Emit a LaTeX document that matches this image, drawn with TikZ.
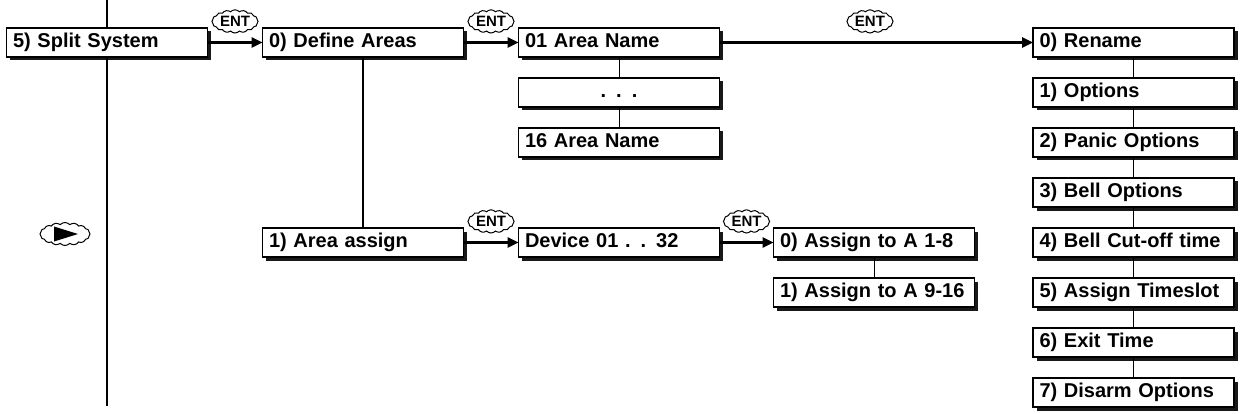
\documentclass[tikz,border=0pt]{standalone}
\usepackage{fontspec}
\setmainfont{Liberation Sans}
\usetikzlibrary{positioning,shapes.symbols,shadows,arrows.meta}

\begin{document}
\begin{tikzpicture}[x=1pt, y=1pt,
  menu/.style={draw, rectangle, fill=white, line width=1.2pt, minimum height=29pt,
    text width=188pt, inner xsep=6.5pt, inner ysep=0pt, outer sep=0pt, align=left,
    text height=14pt, text depth=4pt, font=\bfseries\fontsize{20}{20}\selectfont,
    drop shadow={fill=black!90, opacity=1, shadow xshift=3.5pt, shadow yshift=-3.5pt}},
  ent/.style={draw, cloud, cloud puffs=16, cloud puff arc=95, aspect=2.3, inner sep=1pt,
    minimum width=44pt, minimum height=21pt, line width=1pt, fill=white,
    font=\bfseries\fontsize{15}{15}\selectfont},
  link/.style={line width=2.5pt, -{Triangle[length=11pt,width=10pt]}},
  tie/.style={line width=1pt},
  trunk/.style={line width=1.5pt}]
  \useasboundingbox (0,0) rectangle (1241,-414);
  \coordinate (vtop) at (107,0);
  \coordinate (vbot) at (107,-406);
  \node[menu] (s5) at (107,-42.5) {5) Split System};
  \node[menu, right=55pt of s5] (d0) {0) Define Areas};
  \node[menu, right=55pt of d0] (a01) {01 Area Name};
  \node[menu, below=21pt of a01, align=center] (dots) {. . .};
  \node[menu, below=21pt of dots] (a16) {16 Area Name};
  \node[menu, right=313.5pt of a01] (r0) {0) Rename};
  \node[menu, below=21pt of r0] (r1) {1) Options};
  \node[menu, below=21pt of r1] (r2) {2) Panic Options};
  \node[menu, below=21pt of r2] (r3) {3) Bell Options};
  \node[menu, below=21pt of r3] (r4) {4) Bell Cut-off time};
  \node[menu, below=21pt of r4] (r5) {5) Assign Timeslot};
  \node[menu, below=21pt of r5] (r6) {6) Exit Time};
  \node[menu, below=21pt of r6] (r7) {7) Disarm Options};
  \node[menu, below=171pt of d0] (aa1) {1) Area assign};
  \node[menu, right=55pt of aa1] (dev) {Device 01 . . 32};
  \node[menu, right=54pt of dev] (as0) {0) Assign to A 1-8};
  \node[menu, below=21pt of as0] (as1) {1) Assign to A 9-16};
  \node[ent, minimum width=50pt, minimum height=23pt] (play) at (65,-234) {};
  \fill ([xshift=-11pt,yshift=7.5pt]play.center) -- ([xshift=13pt]play.center)
    -- ([xshift=-11pt,yshift=-7.5pt]play.center) -- cycle;
  \draw[trunk] (vtop) -- (s5.north);
  \draw[trunk] (s5.south) -- (vbot);
  \draw[trunk] (d0) -- (aa1);
  \draw[link] (s5) -- node[ent, above=9pt] (e1) {ENT} (d0);
  \draw[link] (d0) -- node[ent, above=9pt] (e2) {ENT} (a01);
  \draw[link] (a01) -- node[ent, above=9pt, pos=0.48] (e3) {ENT} (r0);
  \draw[link] (aa1) -- node[ent, above=9pt] (e4) {ENT} (dev);
  \draw[link] (dev) -- node[ent, above=9pt] (e5) {ENT} (as0);
  \draw[tie] (a01) -- (dots);
  \draw[tie] (dots) -- (a16);
  \draw[tie] (r0) -- (r1);
  \draw[tie] (r1) -- (r2);
  \draw[tie] (r2) -- (r3);
  \draw[tie] (r3) -- (r4);
  \draw[tie] (r4) -- (r5);
  \draw[tie] (r5) -- (r6);
  \draw[tie] (r6) -- (r7);
  \draw[tie] (as0) -- (as1);
\end{tikzpicture}
\end{document}
